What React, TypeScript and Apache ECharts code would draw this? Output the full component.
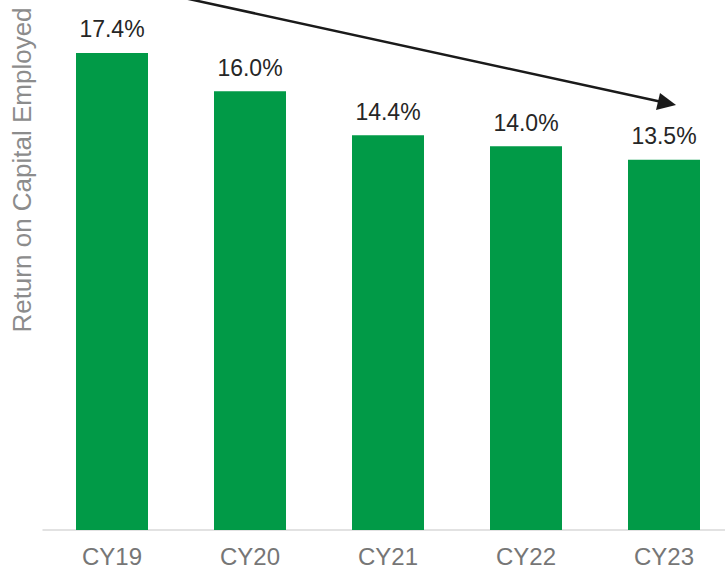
import React, { useEffect, useRef } from "react";
import * as echarts from "echarts";

const categories = ["CY19", "CY20", "CY21", "CY22", "CY23"];
const roceValues = [17.4, 16.0, 14.4, 14.0, 13.5];
const yAxisTitle = "Return on Capital Employed";

export default function App() {
  const ref = useRef<HTMLDivElement>(null);
  useEffect(() => {
    if (!ref.current) return;
    const chart = echarts.init(ref.current, null, { renderer: "svg" });
    const font = "'Liberation Sans', Arial, sans-serif";
    chart.setOption({
      animation: false,
      grid: { left: 43, top: 0, right: -8, height: 530, containLabel: false, outerBoundsMode: "none" },
      xAxis: {
        type: "category",
        data: categories,
        axisLine: { show: true, lineStyle: { color: "#d9d9d9", width: 1.5 } },
        axisTick: { show: false },
        axisLabel: { color: "#767676", fontSize: 24, fontFamily: font, margin: 14 },
      },
      yAxis: {
        type: "value",
        min: 0,
        max: 19.33,
        show: false,
        splitLine: { show: false },
      },
      series: [
        {
          type: "bar",
          data: roceValues,
          barWidth: 72,
          itemStyle: { color: "#019A47" },
          label: {
            show: true,
            position: "top",
            distance: 12,
            formatter: (p: any) => p.value.toFixed(1) + "%",
            color: "#262626",
            fontSize: 23,
            fontFamily: font,
          },
        },
      ],
      graphic: [
        {
          type: "text",
          x: 22,
          y: 170,
          rotation: Math.PI / 2,
          style: {
            text: yAxisTitle,
            fill: "#8c8c8c",
            fontSize: 26,
            fontFamily: font,
            align: "center",
            verticalAlign: "middle",
          },
        },
        {
          type: "line",
          shape: { x1: 175, y1: -4, x2: 662, y2: 102 },
          style: { stroke: "#1a1a1a", lineWidth: 2.5 },
        },
        {
          type: "polygon",
          shape: {
            points: [
              [676, 105],
              [656, 110],
              [660, 93],
            ],
          },
          style: { fill: "#1a1a1a" },
        },
      ],
    });
    return () => chart.dispose();
  }, []);
  return (
    <div
      ref={ref}
      style={{ position: "fixed", left: 0, top: 0, width: 725, height: 571, background: "#fff" }}
    />
  );
}
